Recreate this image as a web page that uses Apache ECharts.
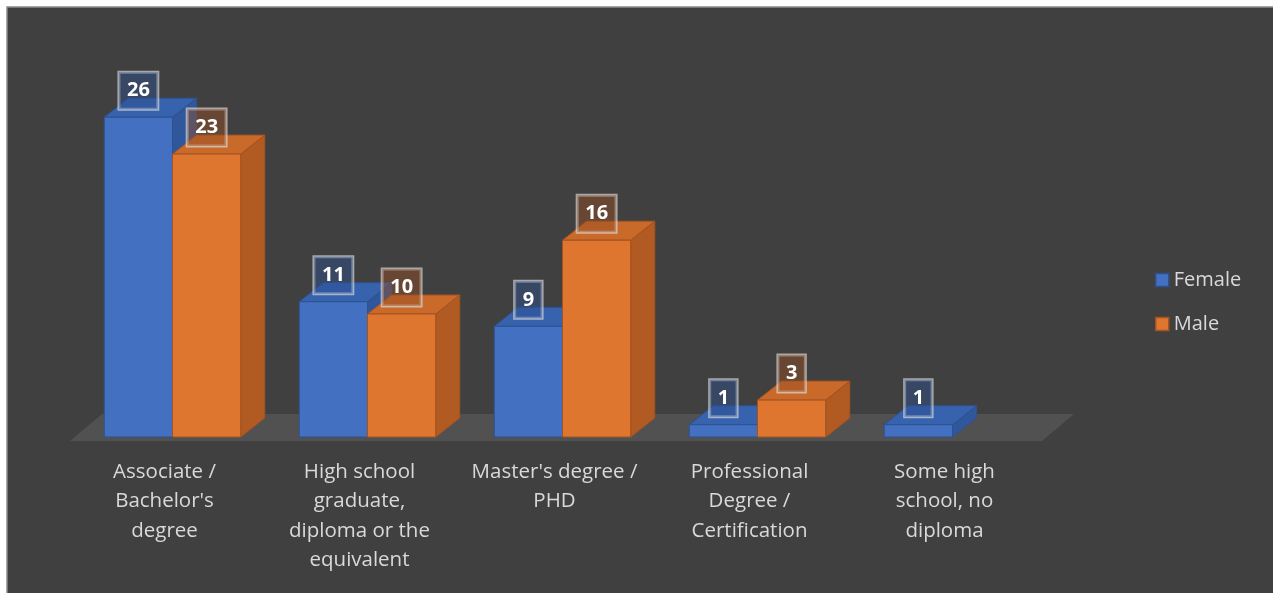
<!DOCTYPE html>
<html>
<head>
<meta charset="utf-8">
<script src="https://cdn.jsdelivr.net/npm/echarts@6/dist/echarts.min.js"></script>
<style>
  html, body { margin: 0; padding: 0; background: #ffffff; }
  #chart { width: 1273px; height: 593px; }
</style>
</head>
<body>
<div id="chart"></div>
<script>
// Education level by gender
const categories = [
  "Associate / Bachelor's degree",
  "High school graduate, diploma or the equivalent",
  "Master's degree / PHD",
  "Professional Degree / Certification",
  "Some high school, no diploma"
];
const tickLabels = [
  "Associate /\nBachelor's\ndegree",
  "High school\ngraduate,\ndiploma or the\nequivalent",
  "Master's degree /\nPHD",
  "Professional\nDegree /\nCertification",
  "Some high\nschool, no\ndiploma"
];
const female = [26, 11, 9, 1, 1];
const male = [23, 10, 16, 3, null];

const FONT = '"Open Sans", Lato, sans-serif';
const DEPTH_X = 24, DEPTH_Y = 19;

const palette = {
  Female: { front: '#4370c0', top: '#3762ad', side: '#30579c', edge: '#2d528f', label: 'rgba(45,80,145,0.45)' },
  Male:   { front: '#de762f', top: '#c9692a', side: '#b15b22', edge: '#a35220', label: 'rgba(150,80,35,0.45)' }
};

function barRenderer(name, sideIdx) {
  const c = palette[name];
  return function (params, api) {
    const cat = api.value(0);
    const val = api.value(1);
    const band = api.size([1, 0])[0];
    const bw = band * 0.35;
    const center = api.coord([cat, 0])[0];
    const x0 = sideIdx === 0 ? center - bw : center;
    const yBase = api.coord([cat, 0])[1];
    const yTop = api.coord([cat, val])[1];
    const stroke = { stroke: c.edge, lineWidth: 1 };
    return {
      type: 'group',
      children: [
        { type: 'polygon', shape: { points: [[x0 + bw, yTop], [x0 + bw + DEPTH_X, yTop - DEPTH_Y], [x0 + bw + DEPTH_X, yBase - DEPTH_Y], [x0 + bw, yBase]] },
          style: Object.assign({ fill: c.side }, stroke) },
        { type: 'polygon', shape: { points: [[x0, yTop], [x0 + bw, yTop], [x0 + bw + DEPTH_X, yTop - DEPTH_Y], [x0 + DEPTH_X, yTop - DEPTH_Y]] },
          style: Object.assign({ fill: c.top }, stroke) },
        { type: 'rect', shape: { x: x0, y: yTop, width: bw, height: yBase - yTop },
          style: Object.assign({ fill: c.front }, stroke) },
        { type: 'text', z2: 100,
          style: {
            text: String(val), x: x0 + bw / 2, y: yTop - 8,
            align: 'center', verticalAlign: 'bottom',
            fill: '#ffffff', font: 'bold 20px ' + FONT, lineHeight: 21,
            backgroundColor: c.label,
            borderColor: 'rgba(225,225,225,0.65)', borderWidth: 1.5,
            padding: [8, 8, 8, 8]
          } }
      ]
    };
  };
}

function floorRenderer(params, api) {
  const cs = params.coordSys;
  const yBase = cs.y + cs.height;
  const fx0 = cs.x - 5, fx1 = cs.x + cs.width - 8, fy = yBase + 4;
  const dx = 32, dy = 27;
  return {
    type: 'polygon',
    shape: { points: [[fx0, fy], [fx1, fy], [fx1 + dx, fy - dy], [fx0 + dx, fy - dy]] },
    style: { fill: '#515151' }
  };
}

const toPairs = arr => arr.map((v, i) => [i, v]).filter(p => p[1] !== null);

const chart = echarts.init(document.getElementById('chart'), null, { renderer: 'canvas' });
chart.setOption({
  backgroundColor: '#ffffff',
  animation: false,
  graphic: [{
    type: 'rect', z: -10, silent: true,
    shape: { x: 7, y: 7, width: 1275, height: 600 },
    style: { fill: '#404040', stroke: '#8a8a8a', lineWidth: 1.5 }
  }],
  grid: { left: 75, top: 68, width: 975, height: 369 },
  legend: {
    orient: 'vertical', left: 1155, top: 270, padding: 0,
    itemWidth: 13, itemHeight: 13, itemGap: 24,
    icon: 'rect',
    textStyle: { color: '#d9d9d9', fontSize: 20, fontFamily: FONT },
    data: [
      { name: 'Female', itemStyle: { color: palette.Female.front, borderColor: palette.Female.edge, borderWidth: 1.5 } },
      { name: 'Male', itemStyle: { color: palette.Male.front, borderColor: palette.Male.edge, borderWidth: 1.5 } }
    ]
  },
  xAxis: {
    type: 'category', data: categories,
    axisLine: { show: false }, axisTick: { show: false }, splitLine: { show: false },
    axisLabel: {
      interval: 0, margin: 20, color: '#d9d9d9', fontSize: 20.5, fontFamily: FONT,
      lineHeight: 29.5, padding: [0, 16, 0, 0],
      formatter: (v, i) => tickLabels[i]
    }
  },
  yAxis: { type: 'value', min: 0, max: 30, show: false, splitLine: { show: false } },
  series: [
    { type: 'custom', name: 'floor', z: 1, silent: true, renderItem: floorRenderer, data: [[0, 0]] },
    { type: 'custom', name: 'Female', z: 2, itemStyle: { color: palette.Female.front },
      renderItem: barRenderer('Female', 0), data: toPairs(female), encode: { x: 0, y: 1 } },
    { type: 'custom', name: 'Male', z: 2, itemStyle: { color: palette.Male.front },
      renderItem: barRenderer('Male', 1), data: toPairs(male), encode: { x: 0, y: 1 } }
  ]
});
</script>
</body>
</html>
